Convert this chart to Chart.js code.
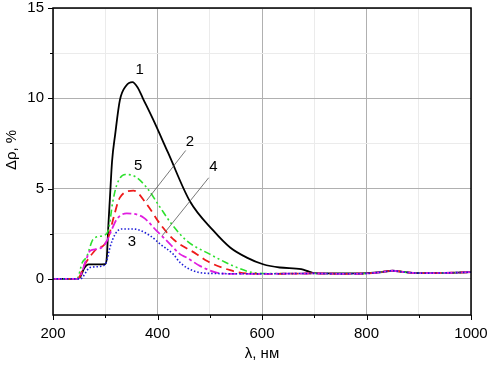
<!DOCTYPE html>
<html>
<head>
<meta charset="utf-8">
<script src="https://cdn.jsdelivr.net/npm/chart.js@4.4.0/dist/chart.umd.min.js"></script>
<style>
  html, body { margin: 0; padding: 0; background: #fff; }
</style>
</head>
<body>
<canvas id="chart" width="488" height="365"></canvas>
<script>
// curve 1 - black solid
const wl1 = [200, 245, 252, 260, 268, 285, 300, 303, 306, 309, 313, 319, 328, 340, 352, 362, 372, 392, 420, 462, 507, 539, 571, 602, 634, 675, 690, 700, 750, 800, 830, 850, 870, 900, 950, 1000];
const dr1 = [0, 0, 0.1, 0.6, 0.8, 0.8, 0.82, 1.2, 3.0, 4.5, 6.5, 8.0, 9.9, 10.7, 10.9, 10.6, 10.0, 8.8, 7.0, 4.3, 2.67, 1.74, 1.18, 0.81, 0.63, 0.54, 0.4, 0.32, 0.3, 0.32, 0.38, 0.45, 0.38, 0.32, 0.33, 0.37];

// curve 2 - red dashed
const wl2 = [200, 247, 261, 277, 287, 296, 306, 316, 328, 354, 379, 405, 430, 475, 494, 539, 571, 620, 700, 750, 800, 830, 850, 870, 900, 950, 1000];
const dr2 = [0, 0, 0.81, 1.46, 1.74, 1.83, 2.3, 3.4, 4.5, 4.89, 4.15, 3.04, 2.2, 1.37, 1.0, 0.48, 0.3, 0.28, 0.3, 0.28, 0.3, 0.38, 0.45, 0.38, 0.32, 0.33, 0.37];

// curve 3 - blue dotted
const wl3 = [200, 252, 271, 296, 303, 309, 319, 331, 354, 386, 405, 430, 443, 469, 507, 600, 700, 750, 800, 830, 850, 870, 900, 950, 1000];
const dr3 = [0, 0, 0.63, 0.72, 1.0, 1.74, 2.48, 2.76, 2.76, 2.39, 1.93, 1.37, 0.91, 0.44, 0.3, 0.28, 0.3, 0.28, 0.3, 0.38, 0.45, 0.38, 0.32, 0.33, 0.37];

// curve 4 - magenta dash-dot
const wl4 = [200, 248, 264, 271, 284, 293, 303, 312, 322, 341, 373, 398, 424, 443, 456, 481, 513, 540, 600, 700, 750, 800, 830, 850, 870, 900, 950, 1000];
const dr4 = [0, 0, 1.1, 1.56, 1.65, 1.74, 2.1, 2.7, 3.3, 3.63, 3.4, 2.67, 1.93, 1.37, 1.18, 0.72, 0.35, 0.28, 0.28, 0.3, 0.28, 0.3, 0.38, 0.45, 0.38, 0.32, 0.33, 0.37];

// curve 5 - green dash-dot-dot
const wl5 = [200, 246, 256, 264, 277, 296, 306, 314, 322, 338, 355, 379, 405, 427, 456, 500, 545, 583, 620, 700, 750, 800, 830, 850, 870, 900, 950, 1000];
const dr5 = [0, 0, 0.9, 1.2, 2.2, 2.4, 2.7, 4.2, 5.2, 5.78, 5.7, 5.07, 3.96, 3.04, 2.11, 1.37, 0.72, 0.35, 0.3, 0.3, 0.28, 0.3, 0.38, 0.45, 0.38, 0.32, 0.33, 0.37];

const xTicks = [200, 300, 400, 500, 600, 700, 800, 900, 1000];
const yTicks = [-2, 0, 2.5, 5, 7.5, 10, 12.5, 15];

// curve numbers and their leader lines (data coords)
const curveLabels = ['1', '2', '3', '4', '5'];
const labelX = [366, 462, 351, 507, 363];
const labelY = [11.56, 7.57, 2.07, 6.18, 6.28];
const leaders = [
  { label: '2', from: [454, 7.11], to: [379, 4.33] },
  { label: '4', from: [498, 5.6], to: [409, 2.39] }
];

const FONT = '"Liberation Sans", Arial, sans-serif';

function pts(xs, ys) {
  return xs.map((x, i) => ({ x: x, y: ys[i] }));
}

function isMajorX(v) { return v % 200 === 0; }
function isMajorY(v) { return v % 5 === 0; }

// keep the plot box where the reference has it
function noPad(s) {
  s.paddingLeft = 0;
  s.paddingRight = 0;
  s.paddingTop = 0;
  s.paddingBottom = 0;
}

const decorPlugin = {
  id: 'decor',
  afterDatasetsDraw(chart) {
    const ctx = chart.ctx;
    const area = chart.chartArea;
    const xs = chart.scales.x;
    const ys = chart.scales.y;

    ctx.save();
    // frame
    ctx.strokeStyle = '#000';
    ctx.lineWidth = 1.5;
    ctx.strokeRect(area.left, area.top, area.right - area.left, area.bottom - area.top);

    // outward ticks
    ctx.lineWidth = 1;
    ctx.beginPath();
    xTicks.forEach(v => {
      const px = Math.round(xs.getPixelForValue(v)) + 0.5;
      const len = isMajorX(v) ? 5 : 3;
      ctx.moveTo(px, area.bottom);
      ctx.lineTo(px, area.bottom + len);
    });
    yTicks.forEach(v => {
      if (v < 0) return;
      const py = Math.round(ys.getPixelForValue(v)) + 0.5;
      const len = isMajorY(v) ? 5 : 3;
      ctx.moveTo(area.left, py);
      ctx.lineTo(area.left - len, py);
    });
    ctx.stroke();

    // leader lines
    ctx.strokeStyle = '#555';
    ctx.lineWidth = 0.8;
    leaders.forEach(l => {
      ctx.beginPath();
      ctx.moveTo(xs.getPixelForValue(l.from[0]), ys.getPixelForValue(l.from[1]));
      ctx.lineTo(xs.getPixelForValue(l.to[0]), ys.getPixelForValue(l.to[1]));
      ctx.stroke();
    });

    // curve numbers
    ctx.fillStyle = '#000';
    ctx.font = '15px ' + FONT;
    ctx.textAlign = 'center';
    ctx.textBaseline = 'middle';
    curveLabels.forEach((t, i) => {
      ctx.fillText(t, xs.getPixelForValue(labelX[i]), ys.getPixelForValue(labelY[i]));
    });

    // axis titles
    ctx.fillText('λ, нм', (area.left + area.right) / 2, 354);
    ctx.translate(12, 150);
    ctx.rotate(-Math.PI / 2);
    ctx.fillText('Δρ, %', 0, 0);
    ctx.restore();
  }
};

function ds(data, color, dash, width) {
  return {
    data: data,
    borderColor: color,
    borderWidth: width,
    borderDash: dash,
    pointRadius: 0,
    fill: false,
    cubicInterpolationMode: 'monotone'
  };
}

new Chart(document.getElementById('chart'), {
  type: 'line',
  data: {
    datasets: [
      ds(pts(wl3, dr3), '#1c1cd8', [1.5, 2], 1.6),
      ds(pts(wl4, dr4), '#e01ee0', [9, 3, 3, 3], 1.8),
      ds(pts(wl2, dr2), '#ee1a1a', [8, 5], 1.8),
      ds(pts(wl5, dr5), '#2ee02e', [7, 3, 2, 3, 2, 3], 1.6),
      ds(pts(wl1, dr1), '#000000', [], 1.8)
    ]
  },
  options: {
    responsive: false,
    animation: false,
    layout: { padding: { top: 8, right: 17, left: 0, bottom: 0 } },
    plugins: {
      legend: { display: false },
      tooltip: { enabled: false }
    },
    scales: {
      x: {
        type: 'linear',
        min: 200,
        max: 1000,
        afterBuildTicks: s => { s.ticks = xTicks.map(v => ({ value: v })); },
        afterFit: s => { s.height = 50; noPad(s); },
        border: { display: false },
        grid: {
          drawTicks: false,
          color: c => isMajorX(c.tick.value) ? '#b0b0b0' : '#ebebeb',
          lineWidth: 1
        },
        ticks: {
          padding: 10,
          maxRotation: 0,
          autoSkip: false,
          color: '#000',
          font: { family: FONT, size: 15 },
          callback: v => isMajorX(v) ? String(v) : ''
        }
      },
      y: {
        type: 'linear',
        min: -2,
        max: 15,
        afterBuildTicks: s => { s.ticks = yTicks.map(v => ({ value: v })); },
        afterFit: s => { s.width = 53; noPad(s); },
        border: { display: false },
        grid: {
          drawTicks: false,
          color: c => (c.tick.value >= 0 && isMajorY(c.tick.value)) ? '#b0b0b0' : '#ebebeb',
          lineWidth: 1
        },
        ticks: {
          padding: 9,
          autoSkip: false,
          color: '#000',
          font: { family: FONT, size: 15 },
          callback: v => (v >= 0 && isMajorY(v)) ? String(v) : ''
        }
      }
    }
  },
  plugins: [decorPlugin]
});
</script>
</body>
</html>
